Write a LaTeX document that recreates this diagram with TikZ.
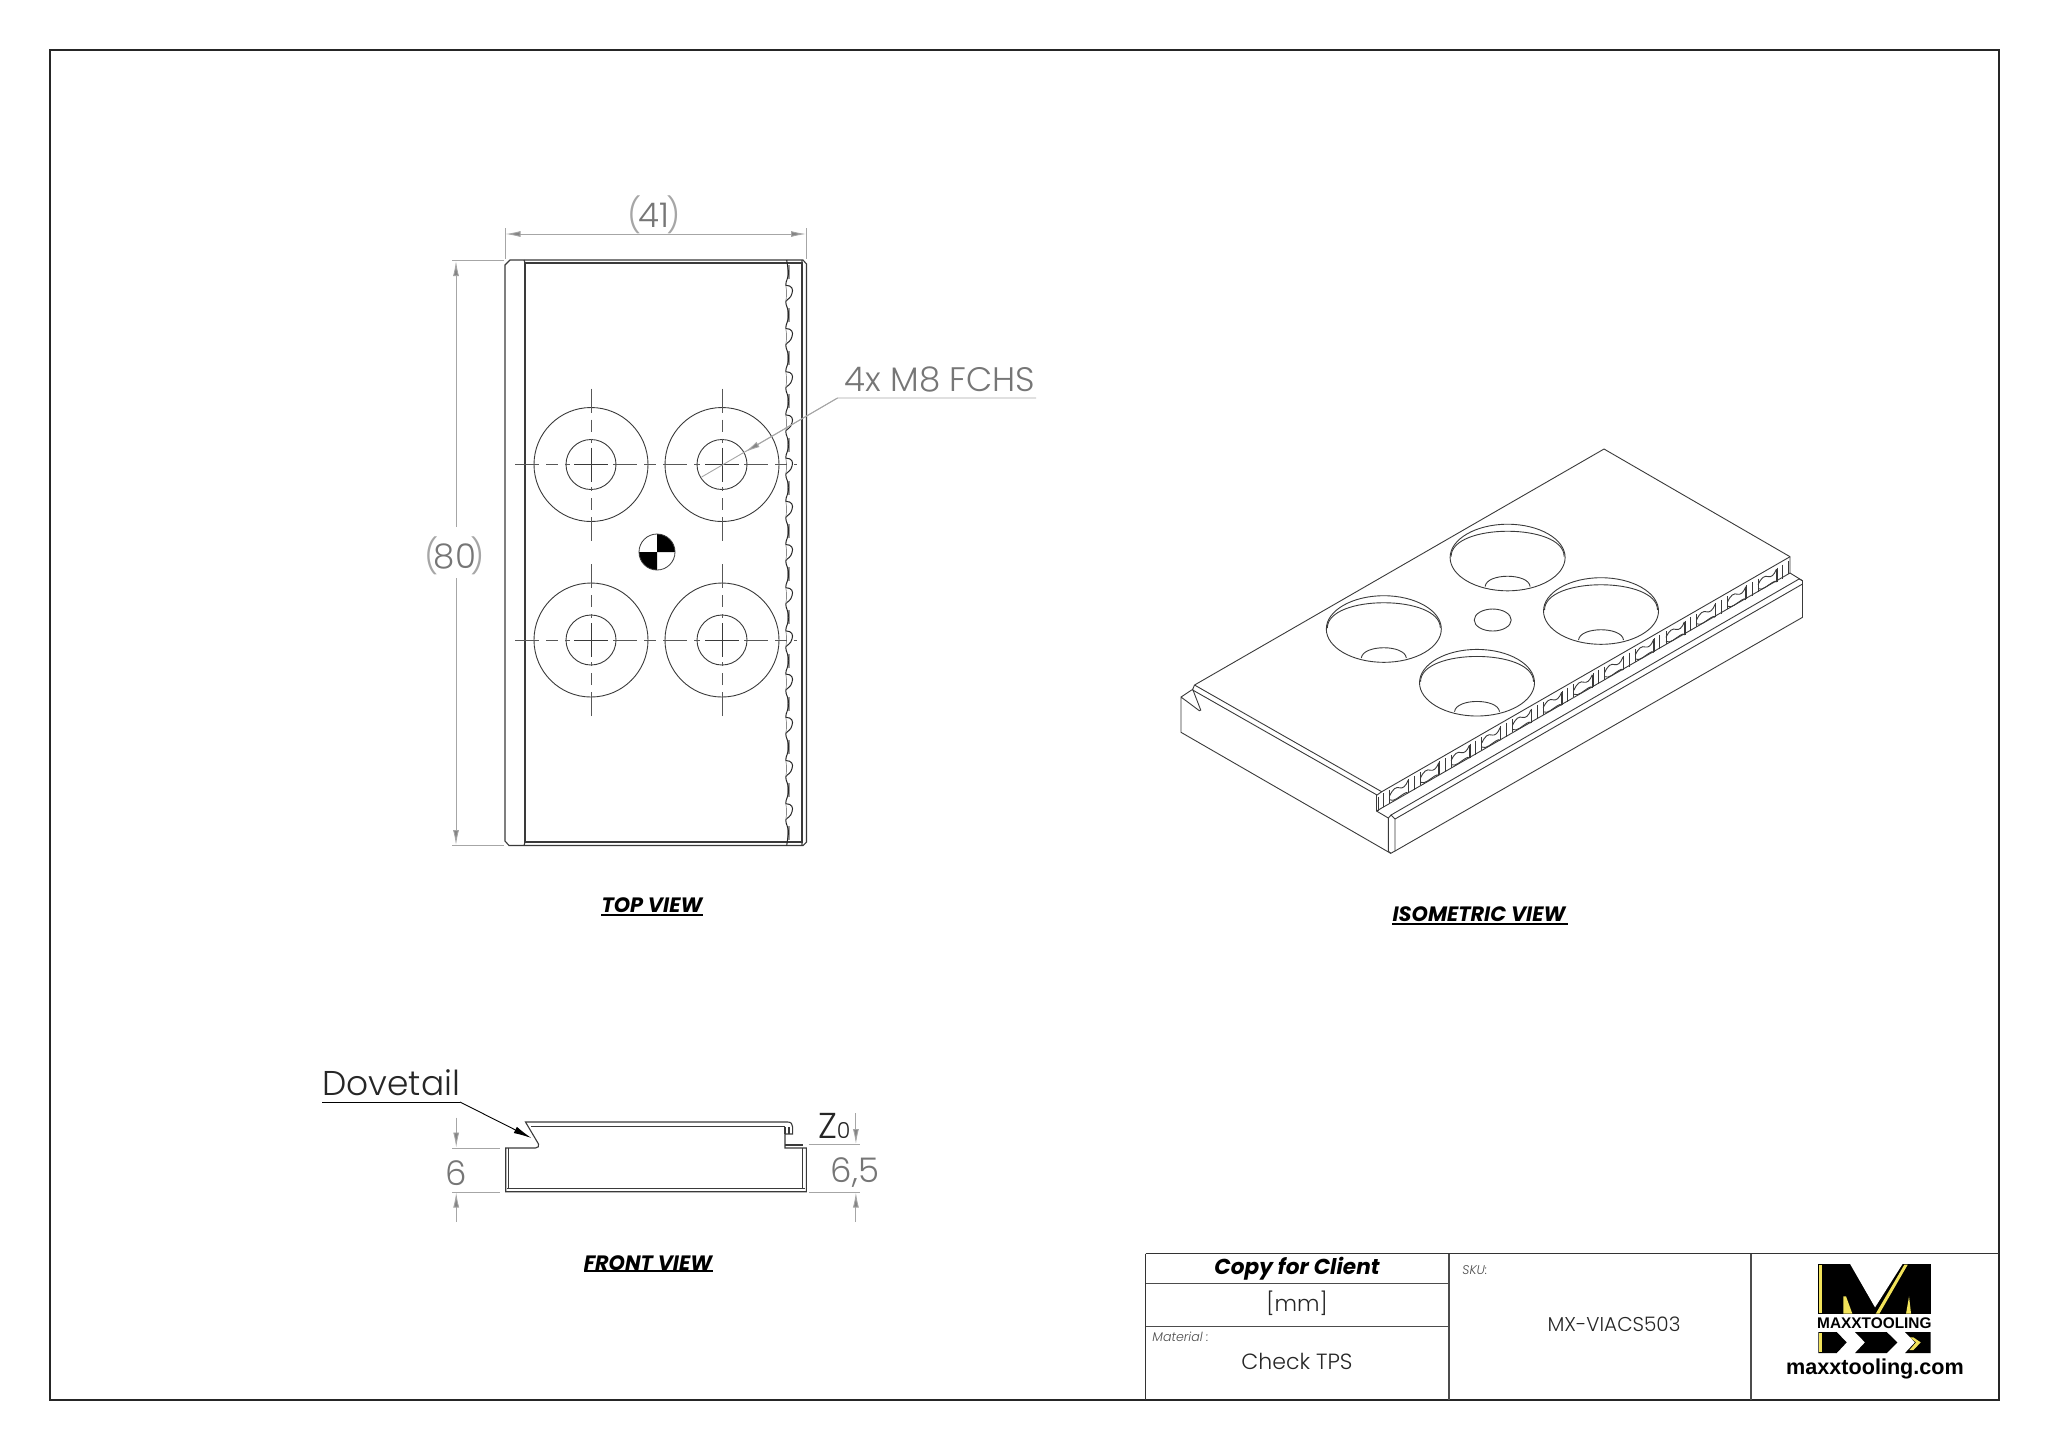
\documentclass[tikz,border=0pt]{standalone}
\usepackage{fontspec}
\usepackage{tikz}
\usetikzlibrary{arrows.meta}
\setmainfont{Poppins}
\newfontfamily\lightfont{Poppins Light}
\newfontfamily\logofont{Liberation Sans}
\definecolor{partline}{HTML}{3A3A3A}
\definecolor{dimgrey}{HTML}{A6A6A6}
\definecolor{dimtext}{HTML}{767676}
\definecolor{logoyellow}{HTML}{F2E35A}
\newcommand{\thinparen}[1]{{\color{dimgrey}#1}}
\tikzset{
  part/.style={draw=partline,line width=0.55pt},
  dimline/.style={draw=dimgrey,line width=0.45pt},
  dimtip/.style={dimline,-{Latex[length=7.5pt,width=3pt,fill=dimtext!90]}},
  blacktip/.style={draw=black,line width=0.45pt,-{Latex[length=9pt,width=3.5pt]}},
  centerline/.style={draw=partline!85,line width=0.5pt,dash pattern=on 12pt off 3.5pt on 6pt off 3.5pt},
  dimlabel/.style={text=dimtext,font=\lightfont\fontsize{17pt}{17pt}\selectfont,inner sep=0pt},
  viewtitle/.style={font=\bfseries\itshape\fontsize{10.4pt}{10.4pt}\selectfont,inner sep=0pt},
  blocktext/.style={text=black!85,font=\lightfont\fontsize{11pt}{11pt}\selectfont,inner sep=0pt},
  smalltext/.style={text=black!70,font=\lightfont\itshape\fontsize{6.3pt}{6.3pt}\selectfont,inner sep=0pt,anchor=west},
}
\begin{document}
\begin{tikzpicture}[x=0.5pt,y=-0.5pt]
\useasboundingbox (0,0) rectangle (2048,1448);
% frame
\draw[line width=1.1pt,draw=black!85] (50,50) rectangle (1999,1400);
% title block
\draw[line width=0.9pt,draw=black!80] (1145.5,1253.5) -- (1999,1253.5) (1145.5,1253.5) -- (1145.5,1400);
\draw[line width=0.6pt,draw=black!70] (1145.5,1283.3) -- (1449,1283.3) (1145.5,1326.3) -- (1449,1326.3)
  (1449,1253.5) -- (1449,1400) (1751,1253.5) -- (1751,1400);
\node[font=\bfseries\itshape\fontsize{10.8pt}{10.8pt}\selectfont,inner sep=0pt] (copylabel) at (1297,1268.5) {Copy for Client};
\node[blocktext] (unitlabel) at (1297,1303) {[mm]};
\node[smalltext] (materialhead) at (1152,1336.5) {Material :};
\node[blocktext] (materiallabel) at (1297,1361) {Check TPS};
\node[smalltext] (skuhead) at (1462,1270) {SKU:};
\node[blocktext,font=\lightfont\fontsize{10pt}{10pt}\selectfont] (skulabel) at (1614,1324.5) {MX-VIACS503};
% logo
\begin{scope}[shift={(1810,1258)},x=0.1667pt,y=-0.1667pt]
\fill[black] (25,18) rectangle (362,167);
\fill[white] (118,14) -- (280,14) -- (195,148) -- cycle;
\fill[logoyellow] (27,22) rectangle (37,165);
\fill[logoyellow] (283,20) -- (293,20) -- (208,167) -- (197,167) -- cycle;
\fill[logoyellow] (100,115) -- (108,115) -- (127,167) -- (100,167) -- cycle;
\fill[logoyellow] (297,115) -- (303,167) -- (288,167) -- cycle;
\fill[black] (25,222) -- (80,222) -- (110,253) -- (80,285) -- (25,285) -- cycle;
\fill[logoyellow] (27,225) rectangle (37,282);
\fill[black] (135,222) -- (230,222) -- (262,253) -- (230,285) -- (135,285) -- (165,253) -- cycle;
\fill[black] (285,222) -- (362,222) -- (362,285) -- (285,285) -- (315,253) -- cycle;
\fill[logoyellow] (300,238) -- (310,238) -- (332,253) -- (310,276) -- (298,276) -- (318,253) -- cycle;
\node[font=\logofont\bfseries\fontsize{7.7pt}{7.7pt}\selectfont,inner sep=0pt] (logoname) at (193,195) {MAXXTOOLING};
\end{scope}
\node[font=\logofont\bfseries\fontsize{10.8pt}{10.8pt}\selectfont,inner sep=0pt] (logourl) at (1875,1369) {maxxtooling.com};
% top view
\draw[part] (505,265) -- (510,260) -- (803,260) -- (806.5,264) -- (806.5,842) -- (803,845.5) -- (509,845.5) -- (505,841) -- cycle;
\draw[part] (525,263) rectangle (802,842);
\draw[part] (524,260) -- (525,263) (802,260) -- (802,263) (524,845.5) -- (525,842) (802,845.5) -- (802,842);
\foreach \k in {-1,...,12} {
  \draw[draw=black!40,line width=1.2pt] (788.5,{315-7+43.2*\k}) -- (788.5,{315+7+43.2*\k});
}
\draw[draw=black!85,line width=0.5pt] (786.7,260) -- (788.5,272) (788.5,833) -- (786.7,845.5);
\foreach \k in {0,...,12} {
  \begin{scope}[shift={(0,{293.3+43.2*\k})}]
  \draw[draw=black!85,line width=0.5pt] (788.5,-21.6) .. controls (788.5,-14) and (785.5,-13) .. (785.8,-8) .. controls (792,-8) and (793.5,-4) .. (792,0) .. controls (791,5) and (787,6) .. (785.8,8) .. controls (785.5,13) and (788.5,14) .. (788.5,21.6);
  \draw[draw=black!45,line width=0.35pt] (785.8,-8) .. controls (786.8,-3) and (786.8,3) .. (785.8,8);
  \end{scope}
}
\foreach \hx/\hy in {591/464.5,722/464.5,591/640,722/640} {
  \begin{scope}[shift={(\hx,\hy)}]
  \draw[part,line width=0.45pt] (0,0) circle (57);
  \draw[part,line width=0.45pt] (0,0) circle (25);
  \draw[part,line width=0.4pt] (-17,0) -- (17,0) (0,-17) -- (0,17);
  \draw[centerline] (0,-76) -- (0,-22);
  \draw[centerline] (0,76) -- (0,22);
  \end{scope}
}
\foreach \hy in {464.5,640} {
  \draw[centerline] (515,\hy) -- (570,\hy) (613,\hy) -- (700,\hy) (744,\hy) -- (797,\hy);
}
% centre of mass
\fill[white] (657,552) circle (18);
\fill[black] (657,552) -- (657,534) arc[start angle=90,end angle=0,radius=9pt] -- cycle;
\fill[black] (657,552) -- (657,570) arc[start angle=270,end angle=180,radius=9pt] -- cycle;
\draw[part,line width=0.4pt] (657,552) circle (18);
% top view dimensions
\draw[dimline] (505,228) -- (505,259) (806.5,228) -- (806.5,259) (452,260) -- (504,260) (452,845.5) -- (504,845.5);
\draw[dimtip,{Latex[length=7.5pt,width=3pt,fill=dimtext!90]}-{Latex[length=7.5pt,width=3pt,fill=dimtext!90]}] (505.5,234) -- (806,234);
\node[dimlabel] (widthlabel) at (654,215) {\thinparen{(}\kern-1.5pt 41\kern-1.5pt\thinparen{)}};
\draw[dimtip] (456,527) -- (456,261);
\draw[dimtip] (456,578) -- (456,845);
\node[dimlabel] (heightlabel) at (455,556) {\thinparen{(}\kern-2.6pt 80\kern-2.6pt\thinparen{)}};
% screw callout
\node[dimlabel,anchor=south west] (screwlabel) at (844.5,393) {4x M8 FCHS};
\coordinate (screwknee) at (837.5,398);
\coordinate (screwend) at (701.6,477);
\coordinate (screwtip) at (745,452);
\draw[dimline] (1036,398) -- (screwknee) -- (screwend);
\draw[dimtip] (screwknee) -- (screwtip);
\node[viewtitle] (topviewlabel) at (652,905) {TOP VIEW};
\draw[line width=1pt] (601,915) -- (703,915);
% front view
\draw[part] (525.5,1122) -- (787.8,1122) .. controls (791,1122) and (792.6,1124) .. (792.6,1127) -- (792.6,1134) -- (785,1134) -- (785,1148) -- (806.4,1148) -- (806.4,1191.7) -- (505.7,1191.7) -- (505.7,1148) -- (535.4,1148) .. controls (538,1148) and (539.5,1146) .. (538.5,1144) -- cycle;
\draw[part] (531,1126.7) -- (785,1126.7) (785,1126.7) -- (785,1134) (789,1127) -- (789,1134) (785,1145) -- (803,1145);
\draw[part] (508.4,1148) -- (508.4,1188.5) (802.9,1148) -- (802.9,1188.5) (507,1188.5) -- (805,1188.5);
% front view dimensions
\node[text=black!85,font=\lightfont\fontsize{17.2pt}{17.2pt}\selectfont,inner sep=0pt,anchor=south west] (dovetaillabel) at (322,1096.5) {Dovetail};
\coordinate (dovetailknee) at (460,1102);
\coordinate (dovetailtip) at (531.4,1138);
\draw[draw=black,line width=0.45pt] (322.4,1102) -- (dovetailknee);
\draw[blacktip] (dovetailknee) -- (dovetailtip);
\draw[dimline] (452,1148) -- (500,1148) (452,1192) -- (500,1192) (808.5,1144.5) -- (860,1144.5) (808.5,1192) -- (860,1192);
\draw[dimtip] (456.2,1117.7) -- (456.2,1147.5);
\draw[dimtip] (456.2,1222) -- (456.2,1192.5);
\draw[dimtip] (855.9,1113) -- (855.9,1144);
\draw[dimtip] (855.9,1222) -- (855.9,1192.5);
\node[dimlabel] (lowlabel) at (456,1173) {6};
\node[dimlabel] (highlabel) at (855,1173) {6,5};
\node[text=black!85,font=\lightfont\fontsize{18pt}{18pt}\selectfont,inner sep=0pt,anchor=base west] (zerolabel) at (818.5,1138) {Z\kern-0.5pt{\fontsize{11pt}{11pt}\selectfont 0}};
\node[viewtitle] (frontviewlabel) at (648,1263) {FRONT VIEW};
\draw[line width=1pt] (584,1271) -- (713,1271);
% isometric view
\draw[part,line width=0.45pt] (1194.5,685) -- (1604,449) -- (1790,556.7) -- (1790,573) -- (1802.5,580.7) -- (1802.5,617.3) -- (1395,851) -- (1390.7,853.3) -- (1181,732.3) -- (1181,697) -- (1192.7,689.3) -- (1200.7,710) -- (1199.3,710.7) -- (1181,697);
\draw[part,line width=0.45pt] (1194.5,685) -- (1192.7,689.3);
\draw[part,line width=0.45pt] (1194.5,685) -- (1381.7,791.7) -- (1790,556.7);
\draw[part,line width=0.45pt] (1192.7,690) -- (1377,795) -- (1381.7,791.7);
\draw[part,line width=0.45pt] (1376.5,795) -- (1376.5,811) -- (1388.3,818) -- (1391,815) -- (1395,819) (1388.3,818) -- (1388.3,851) -- (1390.7,853.3) (1395,819) -- (1395,851);
\draw[part,line width=0.45pt] (1376.5,811) -- (1790,573) (1391,815) -- (1799,579) -- (1802.5,580.7) (1395,819) -- (1802.5,584);
\foreach \k in {0,...,13} {
  \begin{scope}[shift={({1378+30.7*\k},{795.5-17.6*\k})},x={(15.35pt,8.8pt)},y={(0pt,-0.5pt)}]
  \draw[part,line width=0.4pt] (0,1) -- (0,15) (0.18,1) -- (0.18,15) (0.38,1) -- (0.38,14);
  \end{scope}
}
\foreach \k in {0,...,12} {
  \begin{scope}[shift={({1378+30.7*\k},{795.5-17.6*\k})},x={(15.35pt,8.8pt)},y={(0pt,-0.5pt)}]
  \draw[part,line width=0.45pt] (0.38,7) .. controls (0.48,2) and (0.58,1) .. (0.72,5) .. controls (0.8,7) and (0.9,7) .. (0.98,2);
  \draw[part,line width=0.45pt] (0.38,11) .. controls (0.52,16) and (0.7,13) .. (0.85,13) .. controls (0.9,13) and (0.95,13) .. (0.98,15);
  \draw[part,line width=0.4pt] (0.98,2) -- (0.98,15);
  \end{scope}
}
\foreach \hx/\hy in {1507.6/557.5,1383.8/629,1601/611,1477/682.7} {
  \begin{scope}[shift={(\hx,\hy)}]
  \draw[part,line width=0.45pt] (0,0) ellipse (57.5 and 33.3);
  \draw[part,line width=0.45pt] (-56.5,-1) .. controls (-56.5,-34.7) and (56.5,-34.7) .. (56.5,-1);
  \draw[part,line width=0.45pt] (-22.5,29) .. controls (-21,15.3) and (21,15.3) .. (22.5,29);
  \end{scope}
}
\draw[part,line width=0.45pt] (1492.7,620) ellipse (18.5 and 11);
\node[viewtitle] (isoviewlabel) at (1479,914) {ISOMETRIC VIEW};
\draw[line width=1pt] (1392,924) -- (1568,924);
\end{tikzpicture}
\end{document}
